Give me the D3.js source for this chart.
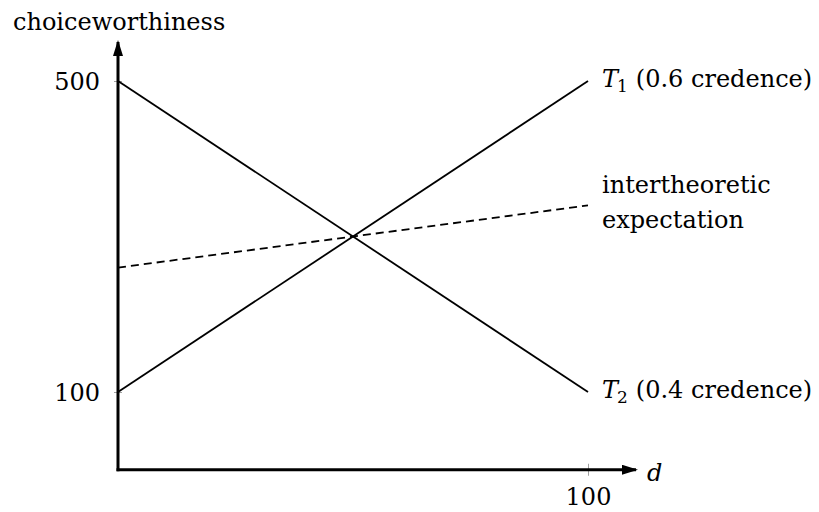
<!DOCTYPE html>
<html>
<head>
<meta charset="utf-8">
<script src="https://cdn.jsdelivr.net/npm/d3@7"></script>
<style>
  body { margin: 0; background: #fff; }
  svg text { font-family: "DejaVu Serif", serif; fill: #000; }
</style>
</head>
<body>
<div id="chartDiv"></div>
<script>
// data
var dValues = [0, 100];
var t1Values = [100, 500];      // T1, 0.6 credence
var t2Values = [500, 100];      // T2, 0.4 credence
var credences = [0.6, 0.4];
var yTicks = [100, 500];
var xTicks = [100];

// expectation = weighted sum of the two theories
var expValues = dValues.map(function(d, i) {
  return credences[0] * t1Values[i] + credences[1] * t2Values[i];
});

function drawChart() {
  var width = 819, height = 512;
  var svg = d3.select('#chartDiv').append('svg')
    .attr('width', width).attr('height', height);

  var x = d3.scaleLinear().domain([0, 100]).range([118, 588]);
  var y = d3.scaleLinear().domain([0, 500]).range([469.75, 81]);

  var defs = svg.append('defs');
  defs.append('marker')
    .attr('id', 'arrow')
    .attr('viewBox', '0 0 16 10')
    .attr('refX', 14).attr('refY', 5)
    .attr('markerWidth', 16).attr('markerHeight', 10)
    .attr('markerUnits', 'userSpaceOnUse')
    .attr('orient', 'auto')
    .append('path')
    .attr('d', 'M0,0 L16,5 L0,10 Z')
    .attr('fill', '#000');

  var fs = 24;

  // ticks with labels via d3 axes
  var yAxis = d3.axisLeft(y).tickValues(yTicks).tickSize(4).tickPadding(14);
  var yg = svg.append('g').attr('transform', 'translate(' + x(0) + ',0)').call(yAxis);
  var xAxis = d3.axisBottom(x).tickValues(xTicks).tickSize(6).tickPadding(14);
  var xg = svg.append('g').attr('transform', 'translate(0,' + y(0) + ')').call(xAxis);

  [yg, xg].forEach(function(g) {
    g.attr('font-family', null).attr('font-size', fs);
    g.select('.domain').remove();
    g.selectAll('.tick line').attr('stroke', '#888').attr('stroke-width', 0.8);
    g.selectAll('.tick text').attr('fill', '#000');
  });
  yg.selectAll('.tick line').attr('x1', 4);
  yg.selectAll('.tick text').attr('dy', '0.36em');
  xg.selectAll('.tick line').attr('y1', -6);
  xg.selectAll('.tick text').attr('dy', '0.65em');

  // axes with arrows
  svg.append('line')
    .attr('x1', x(0)).attr('y1', y(0) + 1.5)
    .attr('x2', x(0)).attr('y2', 42)
    .attr('stroke', '#000').attr('stroke-width', 3)
    .attr('marker-end', 'url(#arrow)');
  svg.append('line')
    .attr('x1', x(0) - 1.5).attr('y1', y(0))
    .attr('x2', 636).attr('y2', y(0))
    .attr('stroke', '#000').attr('stroke-width', 3)
    .attr('marker-end', 'url(#arrow)');

  var line = d3.line()
    .x(function(d) { return x(d[0]); })
    .y(function(d) { return y(d[1]); });

  var series = [
    { values: t1Values, dash: null },
    { values: t2Values, dash: null },
    { values: expValues, dash: '8,5' }
  ];

  svg.selectAll('path.series')
    .data(series)
    .enter().append('path')
    .attr('class', 'series')
    .attr('d', function(s) { return line(dValues.map(function(d, i) { return [d, s.values[i]]; })); })
    .attr('fill', 'none')
    .attr('stroke', '#000')
    .attr('stroke-width', 1.8)
    .attr('stroke-dasharray', function(s) { return s.dash; });

  // labels
  svg.append('text').attr('x', 13).attr('y', 30).attr('font-size', fs).text('choiceworthiness');

  svg.append('text').attr('x', 647).attr('y', y(0) + 11).attr('font-size', fs)
    .attr('font-style', 'italic').text('d');

  function theoryLabel(yy, sub, cred) {
    var t = svg.append('text').attr('x', x(100) + 14).attr('y', yy).attr('font-size', fs);
    t.append('tspan').attr('font-style', 'italic').text('T');
    t.append('tspan').attr('font-size', 17).attr('dy', 5).attr('dx', -1).text(sub);
    t.append('tspan').attr('dy', -5).attr('dx', 8).text('(' + cred + ' credence)');
  }
  theoryLabel(y(t1Values[1]) + 6, '1', credences[0]);
  theoryLabel(y(t2Values[1]) + 6, '2', credences[1]);

  var ex = svg.append('text').attr('x', x(100) + 14).attr('y', 193).attr('font-size', fs);
  ex.append('tspan').attr('x', x(100) + 14).text('intertheoretic');
  ex.append('tspan').attr('x', x(100) + 14).attr('y', 228).text('expectation');
}

drawChart();
</script>
</body>
</html>
